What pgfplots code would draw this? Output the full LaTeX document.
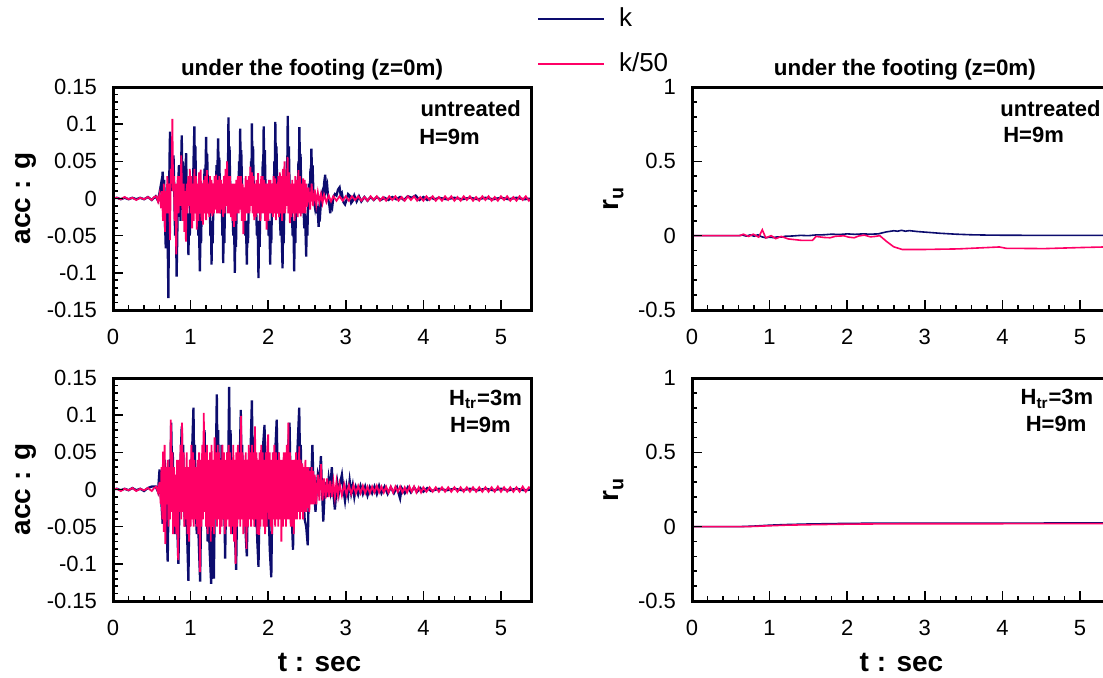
\documentclass[border=0pt]{standalone}
\usepackage{fontspec}
\setmainfont{Liberation Sans}
\usepackage{pgfplots}
\pgfplotsset{compat=1.18}
\definecolor{navyk}{RGB}{12,12,110}
\definecolor{pinkk}{RGB}{255,0,102}
\tikzset{anno/.style={inner sep=0pt, font=\bfseries\fontsize{11}{13}\selectfont}}
\pgfplotsset{
 every axis title shift=0pt,
 panel/.style={
   scale only axis, width=209.5pt, height=111.5pt,
   xmin=0, xmax=5.4,
   xtick={0,1,2,3,4,5}, xticklabels={0,1,2,3,4,5},
   minor x tick num=4, minor y tick num=4,
   tick align=inside, tick pos=left,
   axis line style={line width=1.5pt},
   major tick length=5pt, minor tick length=2.5pt,
   tick style={black, line width=0.8pt},
   tick label style={font=\fontsize{11}{13}\selectfont},
   xticklabel style={yshift=-6pt},
   yticklabel style={xshift=-4.5pt},
   axis on top,
   ylabel style={at={(axis description cs:-0.208,0.5)}, anchor=center, font=\bfseries\fontsize{14}{16}\selectfont},
   xlabel style={at={(axis description cs:0.493,-0.274)}, anchor=center, font=\bfseries\fontsize{14}{16}\selectfont},
   title style={at={(axis description cs:0.475,1.076)}, anchor=center, font=\bfseries\fontsize{11.2}{13}\selectfont},
 },
 accpanel/.style={panel, ymin=-0.15, ymax=0.15, ytick={-0.15,-0.1,-0.05,0,0.05,0.1,0.15}, yticklabels={-0.15,-0.1,-0.05,0,0.05,0.1,0.15}, ylabel={acc : g}},
 rupanel/.style={panel, ymin=-0.5, ymax=1, ytick={-0.5,0,0.5,1}, yticklabels={-0.5,0,0.5,1}, ylabel={r\textsubscript{u}}, ylabel style={at={(axis description cs:-0.187,0.5)}}, title style={at={(axis description cs:0.508,1.076)}}},
}
\begin{document}
\begin{tikzpicture}
% ---------------- top left ----------------
\begin{axis}[accpanel, at={(56.5pt,183.5pt)}, anchor=south west,
  title={under the footing (z=0m)},
  legend style={at={(axis description cs:1.012,1.205)}, anchor=west, draw=none, fill=none, inner sep=0pt, font=\fontsize{13}{15}\selectfont, row sep=7.5pt, /tikz/every odd column/.append style={column sep=5pt}},
  legend cell align=left,
  legend image code/.code={\draw[#1] (0pt,0pt) -- (33pt,0pt);},
]
\addlegendimage{draw=navyk, line width=0.8pt}
\addlegendentry{k}
\addlegendimage{draw=pinkk, line width=0.8pt}
\addlegendentry{k/50}
\addplot[navyk, line width=1.15pt, forget plot] coordinates {
(0,0) (0.05,0.001) (0.10,-0.001) (0.15,0.001) (0.20,-0.001) (0.25,0.001) (0.30,-0.001) (0.35,0.001) (0.40,-0.001) (0.45,0.002) (0.50,-0.002) (0.55,0.003) (0.58,-0.003)
(0.60,0.008) (0.62,0.02) (0.63,0.01) (0.64,0.036) (0.65,0.015) (0.66,0.025) (0.67,-0.03) (0.68,-0.067) (0.69,-0.02) (0.70,0.01) (0.705,-0.06) (0.714,-0.134) (0.72,-0.04) (0.728,0.05) (0.735,0.09) (0.742,0.03) (0.75,0.07) (0.76,0.01) (0.77,0.04) (0.78,0.058) (0.79,0.01) (0.80,-0.05) (0.81,-0.02) (0.82,-0.105) (0.83,-0.04) (0.84,0.02) (0.85,0.045) (0.86,0.01) (0.87,-0.03) (0.875,0.03) (0.886,0.085) (0.893,0.03) (0.90,0.05) (0.91,-0.03) (0.92,0.01) (0.935,0.04) (0.942,0.061) (0.95,0.01) (0.958,-0.04) (0.965,-0.02) (0.972,-0.076) (0.98,-0.03) (0.99,-0.05) (1.0,0.01) (1.01,-0.01) (1.02,0.03) (1.03,0.01) (1.04,0.06) (1.049,0.097) (1.055,0.04) (1.062,0.07) (1.07,0.01) (1.08,-0.02) (1.09,0.01) (1.10,-0.05) (1.107,-0.02) (1.114,-0.07) (1.12,-0.098) (1.128,-0.04) (1.135,-0.06) (1.145,0.0) (1.155,0.02) (1.165,-0.01) (1.18,0.04) (1.19,0.02) (1.20,0.083) (1.207,0.035) (1.214,0.06) (1.225,0.0) (1.235,-0.02) (1.245,0.005) (1.255,-0.05) (1.262,-0.03) (1.27,-0.089) (1.277,-0.04) (1.285,-0.06) (1.295,0.0) (1.31,0.02) (1.32,-0.005) (1.335,0.045) (1.342,0.02) (1.355,0.081) (1.362,0.035) (1.37,0.055) (1.38,0.0) (1.39,-0.02) (1.40,0.005) (1.41,-0.05) (1.415,-0.025) (1.42,-0.087) (1.428,-0.04) (1.435,-0.06) (1.445,0.0) (1.455,0.02) (1.465,-0.005) (1.475,0.05) (1.481,0.025) (1.488,0.109) (1.495,0.04) (1.502,0.07) (1.512,0.005) (1.525,-0.02) (1.535,0.005) (1.55,-0.05) (1.56,-0.03) (1.57,-0.10) (1.577,-0.045) (1.585,-0.065) (1.595,0.0) (1.605,0.02) (1.615,-0.005) (1.625,0.05) (1.632,0.025) (1.639,0.094) (1.646,0.04) (1.653,0.065) (1.665,0.005) (1.68,-0.02) (1.69,0.005) (1.705,-0.05) (1.713,-0.03) (1.725,-0.089) (1.732,-0.04) (1.74,-0.06) (1.75,0.0) (1.76,0.02) (1.77,-0.005) (1.78,0.05) (1.785,0.025) (1.79,0.101) (1.797,0.04) (1.805,0.07) (1.815,0.005) (1.83,-0.02) (1.84,0.005) (1.855,-0.05) (1.864,-0.03) (1.875,-0.107) (1.882,-0.045) (1.89,-0.065) (1.90,0.0) (1.91,0.02) (1.92,-0.005) (1.93,0.05) (1.935,0.025) (1.942,0.097) (1.95,0.04) (1.957,0.065) (1.967,0.005) (1.98,-0.02) (1.99,0.005) (2.005,-0.05) (2.015,-0.03) (2.026,-0.089) (2.033,-0.04) (2.04,-0.06) (2.05,0.0) (2.06,0.02) (2.07,-0.005) (2.08,0.05) (2.085,0.025) (2.092,0.103) (2.10,0.04) (2.107,0.07) (2.117,0.005) (2.13,-0.02) (2.14,0.005) (2.16,-0.05) (2.17,-0.03) (2.185,-0.094) (2.192,-0.04) (2.20,-0.06) (2.21,0.0) (2.22,0.02) (2.23,-0.005) (2.24,0.05) (2.245,0.025) (2.252,0.111) (2.26,0.04) (2.267,0.07) (2.277,0.005) (2.29,-0.02) (2.30,0.005) (2.315,-0.05) (2.325,-0.03) (2.335,-0.098) (2.342,-0.045) (2.35,-0.06) (2.36,0.0) (2.37,0.02) (2.38,-0.005) (2.39,0.05) (2.395,0.025) (2.402,0.096) (2.41,0.04) (2.417,0.06) (2.427,0.005) (2.44,-0.02) (2.45,0.005) (2.465,-0.04) (2.475,-0.02) (2.49,-0.078) (2.497,-0.03) (2.505,-0.05) (2.515,0.0) (2.525,0.02) (2.535,0.0) (2.545,0.04) (2.55,0.02) (2.557,0.067) (2.565,0.03) (2.572,0.045) (2.585,0.0) (2.60,-0.01) (2.61,0.005) (2.625,-0.02) (2.635,-0.01) (2.65,-0.038) (2.66,-0.015) (2.67,-0.02) (2.685,0.005) (2.70,0.01) (2.71,0.0) (2.72,0.02) (2.735,0.032) (2.745,0.012) (2.76,0.018) (2.775,-0.002) (2.79,-0.01) (2.80,-0.02) (2.81,-0.008) (2.825,-0.012) (2.84,0.002) (2.86,0.006) (2.88,0.004) (2.90,0.012) (2.92,0.015) (2.935,0.004) (2.95,0.007) (2.97,-0.005) (2.99,-0.008) (3.01,-0.002) (3.03,0.006) (3.05,0.004) (3.07,-0.006) (3.09,-0.003) (3.11,0.004) (3.14,-0.004) (3.17,0.003) (3.20,-0.004) (3.24,0.002) (3.28,-0.003) (3.32,0.002) (3.36,-0.002) (3.40,0.002) (3.45,-0.002) (3.50,0.001) (3.55,-0.002) (3.60,0.002) (3.65,-0.001) (3.70,0.002) (3.75,-0.002) (3.80,0.003) (3.85,0.001) (3.90,0.004) (3.95,-0.002) (4.00,0.002) (4.05,-0.002) (4.10,0.001) (4.15,-0.001) (4.20,0.001) (4.30,-0.001) (4.40,0.001) (4.50,-0.001) (4.60,0.001) (4.70,-0.001) (4.80,0.001) (4.90,-0.001) (5.00,0.001) (5.10,-0.001) (5.20,0.001) (5.30,-0.001) (5.40,0.0)
};
\addplot[pinkk, line width=0.9pt, forget plot] coordinates {
(0,0) (0.05,0.001) (0.10,-0.001) (0.15,0.002) (0.20,-0.001) (0.25,0.001) (0.30,-0.002) (0.35,0.001) (0.40,-0.001) (0.45,0.002) (0.50,-0.002) (0.53,0.002)
(0.56,0.003) (0.58,-0.004) (0.60,0.006) (0.62,-0.013) (0.63,0.01) (0.645,-0.03) (0.655,0.02) (0.67,-0.045) (0.68,0.01) (0.69,-0.02) (0.70,0.03) (0.71,-0.02) (0.72,0.02) (0.735,-0.056) (0.745,0.04) (0.755,0.02) (0.765,0.107) (0.775,0.01) (0.785,0.03) (0.795,-0.03) (0.805,0.02) (0.815,-0.075) (0.825,0.0) (0.835,0.03) (0.845,-0.02) (0.86,0.03) (0.87,-0.01) (0.88,0.058) (0.89,0.0) (0.90,-0.03) (0.91,0.02) (0.92,-0.045) (0.93,0.01) (0.94,-0.058) (0.95,0.02) (0.96,-0.02) (0.97,0.03) (0.98,-0.01) (0.99,0.04) (1.0,-0.02) (1.01,0.03) (1.02,-0.04) (1.03,0.02) (1.04,-0.03) (1.05,0.04) (1.06,-0.02) (1.07,0.03) (1.08,-0.042) (1.09,0.02) (1.10,-0.03) (1.11,0.035) (1.12,-0.02) (1.13,0.039) (1.14,-0.03) (1.15,0.02) (1.16,-0.035) (1.17,0.025) (1.18,-0.02) (1.19,0.03) (1.20,-0.029) (1.21,0.038) (1.22,-0.02) (1.23,0.02) (1.24,-0.025) (1.25,0.03) (1.26,-0.02) (1.27,0.025) (1.28,-0.024) (1.29,0.02) (1.30,-0.02) (1.31,0.03) (1.32,-0.015) (1.33,0.032) (1.34,-0.02) (1.35,0.025) (1.36,-0.02) (1.37,0.03) (1.38,-0.02) (1.39,0.025) (1.40,-0.015) (1.41,0.02) (1.42,-0.025) (1.43,0.03) (1.44,-0.02) (1.45,0.04) (1.46,-0.01) (1.47,0.05) (1.48,-0.02) (1.49,0.03) (1.50,-0.02) (1.51,0.03) (1.52,-0.025) (1.53,0.02) (1.54,-0.03) (1.55,0.02) (1.56,-0.038) (1.57,0.02) (1.58,-0.03) (1.59,0.025) (1.60,-0.02) (1.61,0.03) (1.62,-0.02) (1.63,0.03) (1.64,-0.015) (1.65,0.03) (1.66,-0.03) (1.67,0.02) (1.68,-0.048) (1.69,0.015) (1.70,-0.03) (1.71,0.03) (1.72,-0.02) (1.73,0.025) (1.74,-0.02) (1.75,0.03) (1.76,-0.02) (1.77,0.043) (1.78,-0.01) (1.79,0.035) (1.80,-0.02) (1.81,0.03) (1.82,-0.029) (1.83,0.02) (1.84,-0.025) (1.85,0.025) (1.86,-0.02) (1.87,0.034) (1.88,-0.02) (1.89,0.02) (1.90,-0.03) (1.91,0.03) (1.92,-0.02) (1.93,0.03) (1.94,-0.02) (1.95,0.025) (1.96,-0.03) (1.97,0.02) (1.98,-0.042) (1.99,0.02) (2.00,-0.03) (2.01,0.025) (2.02,-0.02) (2.03,0.025) (2.04,-0.02) (2.05,0.02) (2.06,-0.025) (2.07,0.03) (2.08,-0.02) (2.09,0.027) (2.10,-0.029) (2.11,0.02) (2.12,-0.02) (2.13,0.03) (2.14,-0.025) (2.15,0.035) (2.16,-0.02) (2.17,0.03) (2.18,-0.03) (2.19,0.04) (2.20,-0.02) (2.21,0.05) (2.22,-0.02) (2.23,0.03) (2.24,-0.01) (2.25,0.056) (2.26,-0.02) (2.27,0.035) (2.28,-0.033) (2.29,0.02) (2.30,-0.025) (2.31,0.025) (2.32,-0.02) (2.33,0.02) (2.34,-0.03) (2.35,0.03) (2.36,-0.02) (2.37,0.025) (2.38,-0.025) (2.39,0.038) (2.40,-0.02) (2.41,0.03) (2.42,-0.024) (2.43,0.02) (2.44,-0.02) (2.45,0.027) (2.46,-0.02) (2.47,0.025) (2.48,-0.02) (2.49,0.02) (2.50,-0.011) (2.52,0.015) (2.54,-0.015) (2.56,0.02) (2.58,-0.01) (2.60,0.012) (2.62,-0.008) (2.64,0.008) (2.66,-0.005) (2.68,0.006) (2.70,-0.006) (2.72,0.005) (2.75,-0.005) (2.78,0.004) (2.81,-0.004) (2.84,0.003)
(2.88,-0.003) (2.92,0.003) (2.96,-0.003) (3.00,0.003) (3.04,-0.003) (3.08,0.003) (3.12,-0.002) (3.16,0.003) (3.20,-0.003) (3.24,0.002) (3.28,-0.003) (3.32,0.003) (3.36,-0.002) (3.40,0.003) (3.44,-0.003) (3.48,0.002) (3.52,-0.003) (3.56,0.003) (3.60,-0.002) (3.64,0.003) (3.68,-0.003) (3.72,0.002) (3.76,-0.003) (3.80,0.003) (3.84,-0.002) (3.88,0.003) (3.92,-0.003) (3.96,0.002) (4.00,-0.003) (4.04,0.003) (4.08,-0.002) (4.12,0.003) (4.16,-0.003) (4.20,0.002) (4.24,-0.003) (4.28,0.003) (4.32,-0.002) (4.36,0.003) (4.40,-0.003) (4.44,0.002) (4.48,-0.003) (4.52,0.003) (4.56,-0.002) (4.60,0.003) (4.64,-0.003) (4.68,0.002) (4.72,-0.003) (4.76,0.003) (4.80,-0.002) (4.84,0.003) (4.88,-0.003) (4.92,0.002) (4.96,-0.003) (5.00,0.003) (5.04,-0.002) (5.08,0.003) (5.12,-0.003) (5.16,0.002) (5.20,-0.003) (5.24,0.003) (5.28,-0.002) (5.32,0.003) (5.36,-0.003) (5.40,0.001)
};
\node[anno, anchor=west] at (axis description cs:0.733,0.904) {untreated};
\node[anno, anchor=west] at (axis description cs:0.730,0.774) {H=9m};
\end{axis}
% ---------------- top right ----------------
\begin{axis}[rupanel, at={(346pt,183.5pt)}, anchor=south west,
  title={under the footing (z=0m)}]
\addplot[navyk, line width=0.8pt] coordinates {
(0,0) (0.6,0) (0.65,0.004) (0.70,-0.003) (0.75,0.005) (0.80,-0.004) (0.85,0.006) (0.90,-0.008) (0.95,-0.014) (1.0,-0.01) (1.05,-0.013) (1.1,-0.008) (1.15,-0.01) (1.2,-0.004) (1.3,-0.002) (1.4,0.002) (1.5,0.0) (1.6,0.005) (1.7,0.006) (1.8,0.01) (1.9,0.008) (2.0,0.012) (2.1,0.009) (2.2,0.012) (2.3,0.01) (2.4,0.012) (2.5,0.025) (2.6,0.033) (2.65,0.03) (2.7,0.036) (2.75,0.03) (2.8,0.034) (2.9,0.028) (3.0,0.024) (3.2,0.016) (3.4,0.01) (3.6,0.006) (3.8,0.004) (4.0,0.003) (4.5,0.002) (5.0,0.002) (5.4,0.002)
};
\addplot[pinkk, line width=0.8pt] coordinates {
(0,0) (0.62,0) (0.66,0.01) (0.73,-0.005) (0.79,0.01) (0.86,-0.01) (0.906,0.04) (0.95,-0.015) (1.02,0.0) (1.08,-0.02) (1.15,-0.005) (1.24,-0.022) (1.42,-0.032) (1.55,-0.032) (1.60,-0.005) (1.70,-0.012) (1.78,-0.014) (1.85,-0.004) (1.96,-0.001) (2.02,-0.01) (2.09,-0.014) (2.15,-0.002) (2.22,0.004) (2.30,-0.008) (2.36,-0.005) (2.42,0.0) (2.51,-0.04) (2.60,-0.075) (2.71,-0.093) (2.98,-0.093) (3.43,-0.089) (3.80,-0.08) (3.96,-0.076) (4.05,-0.085) (4.54,-0.087) (5.0,-0.08) (5.4,-0.075)
};
\node[anno, anchor=west] at (axis description cs:0.735,0.904) {untreated};
\node[anno, anchor=west] at (axis description cs:0.742,0.783) {H=9m};
\end{axis}
% ---------------- bottom left ----------------
\begin{axis}[accpanel, at={(56.5pt,38pt)}, anchor=south west, xlabel={t : sec}]
\addplot[navyk, line width=1.15pt] coordinates {
(0,0) (0.05,0.001) (0.10,-0.001) (0.15,0.001) (0.20,-0.001) (0.25,0.002) (0.30,-0.001) (0.35,0.001) (0.40,-0.002) (0.45,0.002) (0.50,0.004) (0.55,0.004) (0.58,-0.003)
(0.60,0.027) (0.61,0.0) (0.625,-0.02) (0.64,-0.046) (0.65,0.0) (0.665,0.04) (0.68,0.0) (0.69,-0.05) (0.705,-0.097) (0.715,-0.02) (0.73,0.04) (0.74,0.02) (0.75,0.09) (0.76,0.03) (0.77,0.05) (0.785,-0.02) (0.80,-0.06) (0.81,-0.01) (0.825,-0.04) (0.843,-0.10) (0.855,-0.03) (0.865,0.02) (0.875,0.05) (0.886,0.085) (0.895,0.02) (0.905,0.06) (0.915,-0.02) (0.93,-0.05) (0.94,0.0) (0.955,-0.06) (0.972,-0.123) (0.982,-0.04) (0.99,0.0) (1.0,0.04) (1.01,0.02) (1.025,0.07) (1.037,0.11) (1.045,0.04) (1.055,0.06) (1.065,-0.02) (1.08,-0.06) (1.09,-0.01) (1.105,-0.07) (1.123,-0.124) (1.133,-0.05) (1.145,0.02) (1.16,0.0) (1.17,0.05) (1.18,0.08) (1.19,0.02) (1.20,0.04) (1.21,-0.02) (1.22,-0.07) (1.23,-0.03) (1.245,-0.08) (1.265,-0.127) (1.275,-0.05) (1.285,-0.08) (1.30,-0.12) (1.31,-0.03) (1.32,0.04) (1.33,0.07) (1.338,0.128) (1.345,0.05) (1.355,0.08) (1.365,0.01) (1.375,0.03) (1.39,0.0) (1.40,0.06) (1.41,0.01) (1.425,-0.04) (1.435,-0.02) (1.445,-0.093) (1.455,-0.03) (1.465,0.02) (1.475,0.05) (1.485,0.03) (1.497,0.138) (1.505,0.05) (1.515,0.08) (1.525,0.0) (1.54,-0.03) (1.55,-0.06) (1.56,-0.02) (1.575,-0.07) (1.587,-0.108) (1.597,-0.04) (1.61,0.02) (1.62,0.04) (1.63,0.02) (1.647,0.107) (1.655,0.04) (1.665,0.06) (1.675,-0.01) (1.69,-0.04) (1.70,-0.02) (1.71,-0.06) (1.725,-0.09) (1.735,-0.03) (1.745,0.02) (1.755,0.05) (1.765,0.02) (1.78,0.08) (1.79,0.12) (1.80,0.04) (1.81,0.07) (1.82,-0.01) (1.835,-0.05) (1.845,-0.02) (1.86,-0.07) (1.875,-0.104) (1.885,-0.04) (1.895,0.01) (1.91,0.04) (1.92,0.02) (1.935,0.06) (1.953,0.087) (1.96,0.03) (1.97,0.05) (1.98,-0.01) (1.995,-0.05) (2.005,-0.02) (2.02,-0.08) (2.04,-0.118) (2.05,-0.04) (2.06,0.0) (2.075,0.05) (2.085,0.02) (2.095,0.06) (2.11,0.094) (2.12,0.03) (2.13,0.05) (2.14,-0.01) (2.155,-0.03) (2.165,0.0) (2.18,-0.04) (2.19,0.0) (2.205,0.03) (2.215,0.0) (2.23,0.04) (2.245,0.02) (2.26,0.06) (2.275,0.09) (2.285,0.03) (2.295,0.0) (2.305,-0.04) (2.32,-0.081) (2.33,-0.03) (2.34,0.0) (2.355,0.04) (2.365,0.02) (2.38,0.06) (2.40,0.11) (2.41,0.04) (2.42,0.06) (2.43,0.0) (2.445,-0.03) (2.455,-0.01) (2.47,-0.04) (2.49,-0.05) (2.51,-0.075) (2.52,-0.02) (2.535,0.01) (2.545,0.03) (2.555,0.01) (2.57,0.06) (2.58,0.02) (2.59,0.0) (2.61,-0.03) (2.625,0.0) (2.64,0.02) (2.66,0.01) (2.68,0.045) (2.69,0.01) (2.71,-0.043) (2.725,-0.01) (2.74,0.01) (2.76,-0.01) (2.78,0.015) (2.80,0.0) (2.82,0.03) (2.835,0.0) (2.86,-0.027) (2.875,-0.005) (2.89,0.01) (2.91,-0.005) (2.93,0.01) (2.95,0.02) (2.97,0.0) (2.99,-0.015) (3.01,0.004) (3.03,-0.008) (3.05,0.012) (3.07,-0.005) (3.09,0.006) (3.11,-0.01) (3.13,0.003) (3.16,-0.007) (3.19,0.005) (3.22,-0.006) (3.25,0.004) (3.28,-0.008) (3.31,0.003) (3.34,-0.005) (3.37,0.004) (3.40,-0.006) (3.43,0.005) (3.46,-0.005) (3.50,0.004) (3.54,-0.006) (3.58,0.003) (3.62,-0.005) (3.66,0.003) (3.70,-0.012) (3.72,0.002) (3.76,-0.005) (3.80,0.003) (3.84,-0.004) (3.88,0.003) (3.92,-0.003) (3.96,0.002) (4.00,-0.003) (4.05,0.002) (4.10,-0.002) (4.20,0.001) (4.30,-0.001) (4.40,0.001) (4.50,-0.001) (4.60,0.001) (4.70,-0.001) (4.80,0.001) (4.90,-0.001) (5.00,0.001) (5.10,-0.001) (5.20,0.001) (5.30,-0.001) (5.40,0.0)
};
\addplot[pinkk, line width=0.9pt] coordinates {
(0,0) (0.05,0.001) (0.10,-0.002) (0.15,0.001) (0.20,-0.001) (0.25,0.002) (0.30,-0.002) (0.35,0.001) (0.40,-0.001) (0.45,0.002) (0.50,-0.002) (0.53,0.002)
(0.56,0.004) (0.58,-0.004) (0.60,0.01) (0.615,-0.02) (0.625,0.03) (0.635,-0.04) (0.645,0.051) (0.655,-0.057) (0.665,0.06) (0.675,-0.073) (0.685,0.03) (0.695,-0.02) (0.705,0.04) (0.715,-0.05) (0.725,0.03) (0.735,-0.04) (0.745,0.094) (0.755,-0.03) (0.765,0.05) (0.775,-0.06) (0.785,0.03) (0.795,-0.05) (0.805,0.02) (0.815,-0.06) (0.825,0.04) (0.84,-0.095) (0.85,0.04) (0.86,-0.03) (0.87,0.06) (0.88,-0.04) (0.89,0.09) (0.90,-0.03) (0.91,0.05) (0.92,-0.05) (0.93,0.03) (0.94,-0.04) (0.95,0.05) (0.96,-0.06) (0.97,0.03) (0.98,-0.07) (0.99,0.04) (1.0,-0.05) (1.01,0.06) (1.02,-0.04) (1.03,0.05) (1.04,-0.05) (1.05,0.04) (1.06,-0.04) (1.07,0.03) (1.08,-0.05) (1.09,0.04) (1.10,-0.06) (1.11,0.05) (1.12,-0.111) (1.13,0.04) (1.14,-0.05) (1.15,0.06) (1.16,-0.04) (1.17,0.103) (1.18,-0.03) (1.19,0.05) (1.20,-0.05) (1.21,0.06) (1.22,-0.06) (1.23,0.04) (1.24,-0.05) (1.25,0.05) (1.26,-0.07) (1.27,0.06) (1.28,-0.05) (1.29,0.04) (1.30,-0.06) (1.31,0.07) (1.32,-0.04) (1.33,0.05) (1.34,-0.05) (1.35,0.06) (1.36,-0.04) (1.37,0.05) (1.38,-0.06) (1.39,0.04) (1.40,-0.05) (1.41,0.06) (1.42,-0.04) (1.43,0.05) (1.44,-0.06) (1.45,0.04) (1.46,-0.05) (1.47,0.05) (1.48,-0.04) (1.49,0.06) (1.50,-0.05) (1.51,0.05) (1.52,-0.06) (1.53,0.04) (1.54,-0.05) (1.55,0.06) (1.56,-0.07) (1.57,0.04) (1.58,-0.10) (1.59,0.05) (1.60,-0.05) (1.61,0.06) (1.62,-0.04) (1.63,0.05) (1.64,-0.05) (1.65,0.099) (1.66,-0.04) (1.67,0.05) (1.68,-0.06) (1.69,0.04) (1.70,-0.05) (1.71,0.05) (1.72,-0.08) (1.73,0.04) (1.74,-0.05) (1.75,0.06) (1.76,-0.04) (1.77,0.05) (1.78,-0.05) (1.79,0.06) (1.80,-0.04) (1.81,0.05) (1.82,-0.05) (1.83,0.085) (1.84,-0.04) (1.85,0.05) (1.86,-0.06) (1.87,0.04) (1.88,-0.061) (1.89,0.05) (1.90,-0.05) (1.91,0.06) (1.92,-0.04) (1.93,0.05) (1.94,-0.05) (1.95,0.04) (1.96,-0.06) (1.97,0.05) (1.98,-0.05) (1.99,0.06) (2.00,0.074) (2.01,-0.04) (2.02,0.05) (2.03,-0.05) (2.04,0.04) (2.05,-0.06) (2.06,0.05) (2.07,-0.04) (2.08,0.06) (2.09,-0.05) (2.10,0.05) (2.11,-0.04) (2.12,0.04) (2.13,-0.05) (2.14,0.05) (2.15,-0.04) (2.16,0.04) (2.17,-0.07) (2.18,0.04) (2.19,-0.05) (2.20,0.05) (2.21,-0.04) (2.22,0.05) (2.23,-0.05) (2.24,0.06) (2.25,-0.04) (2.26,0.09) (2.27,-0.04) (2.28,0.05) (2.29,-0.05) (2.30,0.04) (2.31,-0.05) (2.32,0.04) (2.33,-0.06) (2.34,0.04) (2.35,-0.04) (2.36,0.05) (2.37,-0.04) (2.38,0.04) (2.39,-0.03) (2.40,0.058) (2.41,-0.04) (2.42,0.04) (2.43,-0.03) (2.44,0.035) (2.45,-0.04) (2.46,0.03) (2.47,-0.03) (2.48,0.04) (2.49,-0.03) (2.50,0.03) (2.51,-0.025) (2.52,0.03) (2.53,-0.03) (2.54,0.025) (2.55,-0.02) (2.56,0.03) (2.57,-0.02) (2.58,0.025) (2.59,-0.02) (2.60,0.02) (2.62,-0.02) (2.64,0.02) (2.66,-0.015) (2.68,0.034) (2.70,-0.015) (2.72,0.015) (2.74,-0.012) (2.76,0.015) (2.78,-0.01) (2.80,0.012) (2.82,-0.01) (2.84,0.01) (2.86,-0.01) (2.88,0.01) (2.90,-0.008) (2.92,0.008) (2.95,-0.008) (2.98,0.007) (3.01,-0.007) (3.04,0.006) (3.07,-0.006) (3.10,0.006) (3.13,-0.005) (3.16,0.005) (3.19,-0.005) (3.22,0.005) (3.25,-0.005) (3.28,0.004) (3.31,-0.005) (3.34,0.004) (3.37,-0.004) (3.40,0.005) (3.43,-0.004) (3.46,0.004) (3.49,-0.004) (3.52,0.004) (3.55,-0.004) (3.58,0.004) (3.61,-0.004) (3.64,0.004) (3.67,-0.003) (3.70,0.004) (3.73,-0.004) (3.76,0.003) (3.79,-0.004) (3.82,0.004) (3.85,-0.003) (3.88,0.004) (3.91,-0.004) (3.94,0.003) (3.97,-0.004) (4.00,0.003) (4.04,-0.003) (4.08,0.003) (4.12,-0.003) (4.16,0.003) (4.20,-0.003) (4.24,0.003) (4.28,-0.003) (4.32,0.003) (4.36,-0.003) (4.40,0.003) (4.44,-0.003) (4.48,0.003) (4.52,-0.003) (4.56,0.003) (4.60,-0.003) (4.64,0.003) (4.68,-0.003) (4.72,0.003) (4.76,-0.003) (4.80,0.003) (4.84,-0.003) (4.88,0.003) (4.92,-0.003) (4.96,0.004) (5.00,-0.003) (5.04,0.003) (5.08,-0.003) (5.12,0.003) (5.16,-0.003) (5.20,0.003) (5.24,-0.003) (5.28,0.004) (5.32,-0.003) (5.36,0.003) (5.40,0.0)
};
\node[anno, anchor=center] at (axis description cs:0.889,0.904) {H\textsubscript{tr}=3m};
\node[anno, anchor=center] at (axis description cs:0.877,0.789) {H=9m};
\end{axis}
% ---------------- bottom right ----------------
\begin{axis}[rupanel, at={(346pt,38pt)}, anchor=south west, xlabel={t : sec}, xlabel style={at={(axis description cs:0.50,-0.274)}}]
\addplot[navyk, line width=0.8pt] coordinates {
(0,0) (0.6,0) (0.8,0.004) (1.0,0.01) (1.2,0.014) (1.5,0.018) (2.0,0.022) (2.5,0.024) (3.0,0.024) (4.0,0.024) (5.4,0.025)
};
\addplot[pinkk, line width=0.8pt] coordinates {
(0,0) (0.7,0) (0.9,0.004) (1.2,0.01) (1.5,0.013) (2.0,0.017) (2.5,0.019) (3.0,0.02) (4.0,0.02) (5.4,0.021)
};
\node[anno, anchor=center] at (axis description cs:0.871,0.906) {H\textsubscript{tr}=3m};
\node[anno, anchor=center] at (axis description cs:0.869,0.792) {H=9m};
\end{axis}
\pgfresetboundingbox
\path[use as bounding box] (0,0) rectangle (551.5pt,338.5pt);
\end{tikzpicture}
\end{document}
